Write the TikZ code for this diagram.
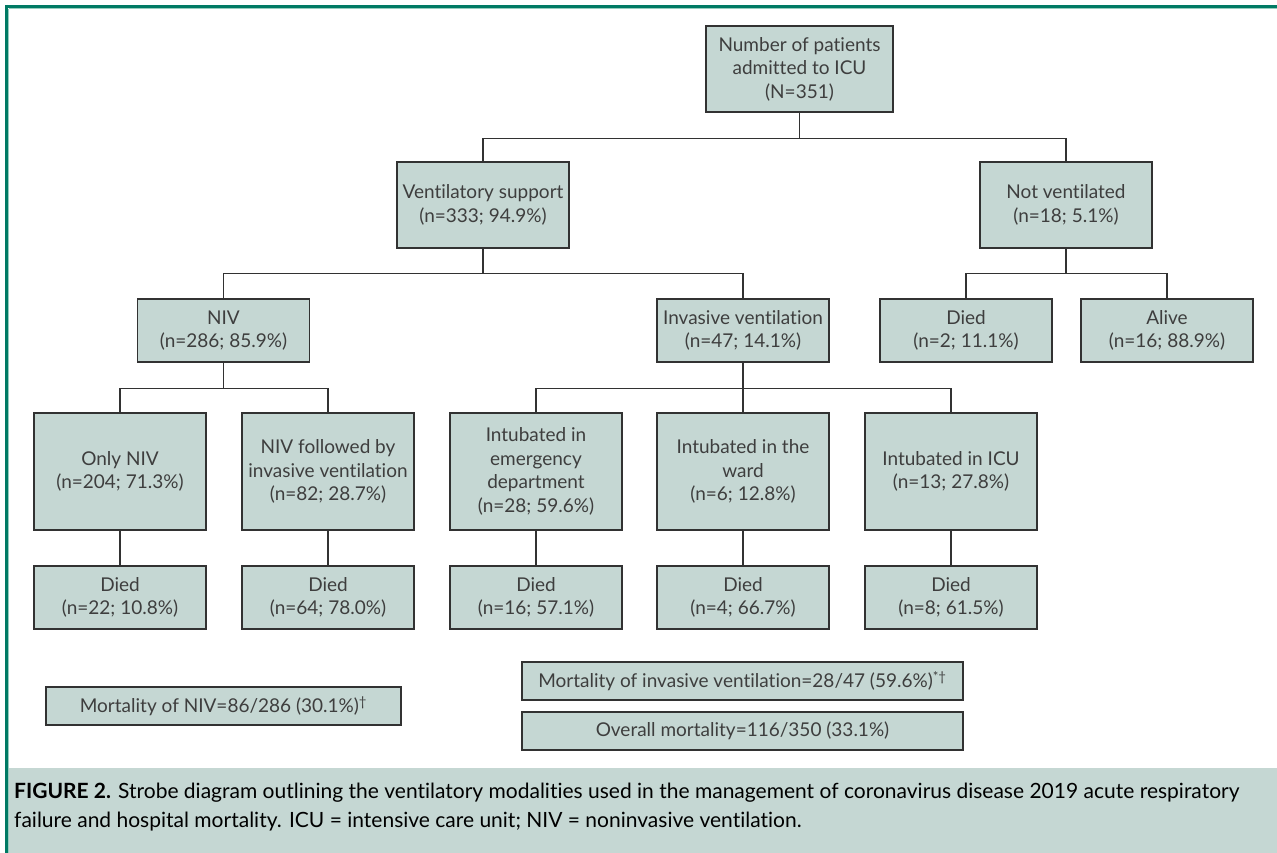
\documentclass[tikz,border=0pt]{standalone}
\usepackage{fontspec}
\setmainfont{Lato}[Ligatures={NoCommon}]
\usepackage{tikz}
\usetikzlibrary{positioning}
\definecolor{boxfill}{RGB}{197,215,211}
\definecolor{boxline}{RGB}{50,50,50}
\definecolor{txtgray}{RGB}{62,62,62}
\definecolor{framegreen}{RGB}{0,122,100}
\definecolor{framelight}{RGB}{150,205,190}
\tikzset{
  box/.style={draw=boxline,line width=1.2pt,fill=boxfill,text=txtgray,align=center,
    inner sep=0pt,minimum width=172pt,font=\fontsize{19}{23.5}\selectfont},
  row2/.style={minimum height=86pt},
  row3/.style={minimum height=63pt},
  tall/.style={minimum height=117pt},
  sumbox/.style={box,minimum height=38pt},
  link/.style={draw=boxline,line width=1.1pt},
}

\begin{document}
\begin{tikzpicture}[x=1pt,y=-1pt]
  \useasboundingbox (0,0) rectangle (1277,853);
  % frame and caption band
  \fill[boxfill] (8,768) rectangle (1277,853);
  \draw[framelight,line width=1pt] (9,8.5) -- (1277,8.5);
  \draw[framelight,line width=1pt] (8.5,9) -- (8.5,853);
  \draw[framegreen,line width=3pt] (5,6.5) -- (1277,6.5);
  \draw[framegreen,line width=3pt] (6.5,5) -- (6.5,853);

  % tree
  \node[box,minimum width=187pt,minimum height=86pt] (top) at (799.5,69)
    {Number of patients\\admitted to ICU\\(N=351)};
  \node[box,row2] (vent) at (483,205) {Ventilatory support\\(n=333; 94.9\%)};
  \node[box,row2] (notv) at (1066,205) {Not ventilated\\(n=18; 5.1\%)};
  \node[box,row3] (niv) at (223.5,330.5) {NIV\\(n=286; 85.9\%)};
  \node[box,row3] (inv) at (743,330.5) {Invasive ventilation\\(n=47; 14.1\%)};
  \node[box,row3] (ndied) at (966,330.5) {Died\\(n=2; 11.1\%)};
  \node[box,row3] (nalive) at (1167,330.5) {Alive\\(n=16; 88.9\%)};
  \foreach \n/\x/\t in {onlyniv/120/{Only NIV\\(n=204; 71.3\%)},
      nivinv/328/{NIV followed by\\invasive ventilation\\(n=82; 28.7\%)},
      inted/536/{Intubated in\\emergency\\department\\(n=28; 59.6\%)},
      intward/743/{Intubated in the\\ward\\(n=6; 12.8\%)},
      inticu/951/{Intubated in ICU\\(n=13; 27.8\%)}}{
    \node[box,tall] (\n) at (\x,471.5) {\t};
  }
  \foreach \n/\x/\t in {d1/120/{(n=22; 10.8\%)},d2/328/{(n=64; 78.0\%)},
      d3/536/{(n=16; 57.1\%)},d4/743/{(n=4; 66.7\%)},d5/951/{(n=8; 61.5\%)}}{
    \node[box,row3] (\n) at (\x,597.5) {Died\\\t};
  }

  \draw[link] (top.south) -- ++(0,26) -| (vent.north);
  \draw[link] (top.south) -- ++(0,26) -| (notv.north);
  \draw[link] (vent.south) -- ++(0,25) -| (niv.north);
  \draw[link] (vent.south) -- ++(0,25) -| (inv.north);
  \draw[link] (notv.south) -- ++(0,25) -| (ndied.north);
  \draw[link] (notv.south) -- ++(0,25) -| (nalive.north);
  \draw[link] (niv.south) -- ++(0,26) -| (onlyniv.north);
  \draw[link] (niv.south) -- ++(0,26) -| (nivinv.north);
  \draw[link] (inv.south) -- ++(0,26) -| (inted.north);
  \draw[link] (inv.south) -- (intward.north);
  \draw[link] (inv.south) -- ++(0,26) -| (inticu.north);
  \foreach \a/\b in {onlyniv/d1,nivinv/d2,inted/d3,intward/d4,inticu/d5}
    \draw[link] (\a) -- (\b);

  % summaries
  \node[sumbox,minimum width=355pt] (mniv) at (223.5,706)
    {Mortality of NIV=86/286 (30.1\%)\textsuperscript{\textdagger}};
  \node[sumbox,minimum width=441pt] (minv) at (742.5,681)
    {Mortality of invasive ventilation=28/47 (59.6\%)\textsuperscript{*\textdagger}};
  \node[sumbox,minimum width=441pt] (mall) at (742.5,731)
    {Overall mortality=116/350 (33.1\%)};

  \node[anchor=north west,align=left,inner sep=0pt,text=black,
    font=\fontsize{21}{29}\selectfont] (caption) at (14,783)
    {\textbf{FIGURE 2.} Strobe diagram outlining the ventilatory modalities used in the management of coronavirus disease 2019 acute respiratory\\
     failure and hospital mortality. ICU = intensive care unit; NIV = noninvasive ventilation.};
\end{tikzpicture}
\end{document}
